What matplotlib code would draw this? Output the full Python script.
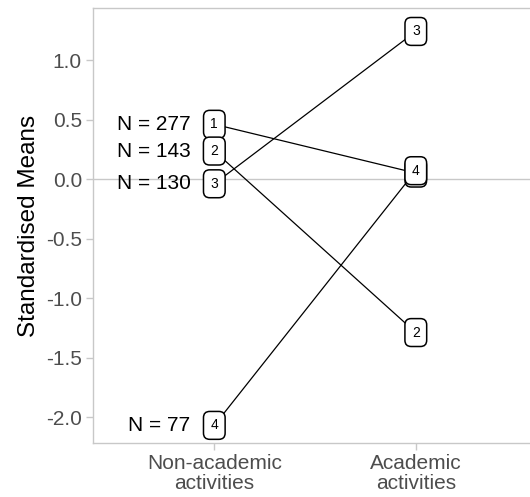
import matplotlib.pyplot as plt

plt.rcParams['font.family'] = ['Liberation Sans', 'DejaVu Sans']

# cluster profiles: standardised means per activity type
conditions = ['Non-academic\nactivities', 'Academic\nactivities']
clusters = ['1', '2', '3', '4']
non_academic = [0.46, 0.235, -0.04, -2.07]
academic = [0.05, -1.29, 1.24, 0.07]
cluster_n = [277, 143, 130, 77]

fig = plt.figure(figsize=(5.3, 4.97), dpi=100)
ax = fig.add_axes([93 / 530, 1 - 443 / 497, 437 / 530 + 0.002, 435 / 497])

grey = '#c8c8c8'
ax.axhline(0, color=grey, lw=1, zorder=1)

for k in range(len(clusters)):
    ax.plot([1, 2], [non_academic[k], academic[k]], color='k', lw=0.9, zorder=2)

box = dict(boxstyle='round,pad=0.5,rounding_size=0.45', fc='white', ec='k', lw=1.1)
for k in range(len(clusters)):
    ax.text(1, non_academic[k], clusters[k], ha='center', va='center',
            fontsize=10, bbox=box, zorder=3)
    ax.text(0.882, non_academic[k], 'N = %d' % cluster_n[k], ha='right', va='center',
            fontsize=15, color='k', zorder=3)
for k in range(len(clusters)):
    ax.text(2, academic[k], clusters[k], ha='center', va='center',
            fontsize=10, bbox=box, zorder=3 + k * 0.1)

ax.set_xlim(0.398, 2.572)
ax.set_ylim(-2.218, 1.437)
ax.set_xticks([1, 2])
ax.set_xticklabels(conditions, linespacing=1.05)
ax.set_yticks([-2.0, -1.5, -1.0, -0.5, 0.0, 0.5, 1.0])
ax.set_yticklabels(['-2.0', '-1.5', '-1.0', '-0.5', '0.0', '0.5', '1.0'])
ax.tick_params(colors=grey, labelcolor='#4d4d4d', labelsize=15, length=5, width=1, pad=3)
ax.set_ylabel('Standardised Means', fontsize=17.5, color='k', labelpad=4)

for s in ax.spines.values():
    s.set_color(grey)
    s.set_linewidth(1)
ax.spines['right'].set_visible(False)

fig.savefig('out.png', dpi=100)
